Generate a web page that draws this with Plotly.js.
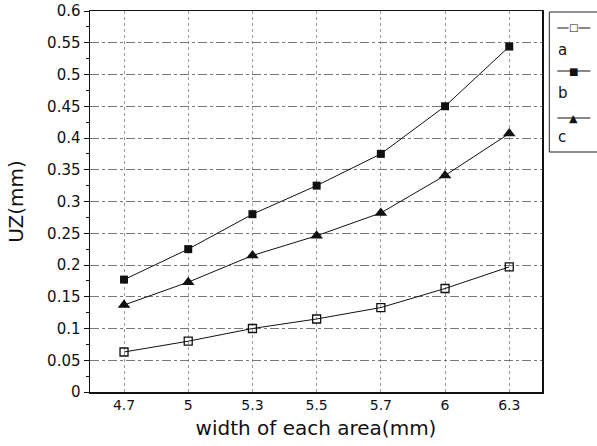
<!DOCTYPE html>
<html>
<head>
<meta charset="utf-8">
<script src="https://cdn.plot.ly/plotly-3.0.1.min.js"></script>
<style>html,body{margin:0;padding:0;background:#fff;}</style>
</head>
<body>
<div id="chart" style="width:597px;height:446px;"></div>
<script>
const categories = ["4.7", "5", "5.3", "5.5", "5.7", "6", "6.3"];
const seriesA = [0.063, 0.080, 0.100, 0.115, 0.133, 0.163, 0.197];
const seriesB = [0.177, 0.225, 0.280, 0.325, 0.375, 0.450, 0.544];
const seriesC = [0.137, 0.173, 0.215, 0.246, 0.282, 0.341, 0.407];
const seriesNames = ["a", "b", "c"];

const L = 90, R = 541.7, T = 11, B = 392;
const px = v => (v - L) / (R - L);
const py = v => (B - v) / (B - T);

const font = "DejaVu Sans, sans-serif";

const traces = [
  {x: categories, y: seriesA, name: seriesNames[0], type: "scatter", mode: "lines+markers",
   line: {color: "#111", width: 1}, marker: {symbol: "square-open", size: 8, color: "#111", line: {width: 1.3}}},
  {x: categories, y: seriesB, name: seriesNames[1], type: "scatter", mode: "lines+markers",
   line: {color: "#111", width: 1}, marker: {symbol: "square", size: 8, color: "#111"}},
  {x: categories, y: seriesC, name: seriesNames[2], type: "scatter", mode: "lines+markers",
   line: {color: "#111", width: 1}, marker: {symbol: "triangle-up", size: 11, color: "#111"}}
];

const legendRows = [28, 71, 118];
const labelRows = [50, 93, 137];
const glyphs = ["□", "■", "▲"];
const shapes = [
  {type: "rect", xref: "paper", yref: "paper", x0: px(549), x1: px(603), y0: py(152), y1: py(12),
   line: {color: "#222", width: 1}, fillcolor: "rgba(0,0,0,0)"}
];
const annotations = [];
legendRows.forEach((r, i) => {
  shapes.push({type: "line", xref: "paper", yref: "paper", x0: px(557), x1: px(590), y0: py(r), y1: py(r),
    line: {color: "#111", width: 1}});
  annotations.push({xref: "paper", yref: "paper", x: px(573.5), y: py(r), text: glyphs[i], showarrow: false,
    xanchor: "center", yanchor: "middle", font: {family: "DejaVu Sans", size: i === 2 ? 11 : 10, color: "#111"},
    bgcolor: i === 0 ? "#fff" : "rgba(0,0,0,0)", borderpad: 0});
  annotations.push({xref: "paper", yref: "paper", x: px(556), y: py(labelRows[i]), text: seriesNames[i], showarrow: false,
    xanchor: "left", yanchor: "middle", font: {family: font, size: 15, color: "#111"}});
});

const layout = {
  width: 597, height: 446,
  margin: {l: L, r: 597 - R, t: T, b: 446 - B},
  paper_bgcolor: "#fff", plot_bgcolor: "#fff",
  showlegend: false,
  font: {family: font, color: "#111"},
  xaxis: {
    type: "category", range: [-0.53, 6.51],
    showline: true, mirror: true, linecolor: "#111", linewidth: 1.5,
    showgrid: true, gridcolor: "#999", griddash: "dot", gridwidth: 1,
    ticks: "", tickfont: {size: 14, family: font, color: "#111"},
    title: {text: "width of each area(mm)", font: {size: 20, family: font, color: "#111"}, standoff: 8},
    zeroline: false
  },
  yaxis: {
    range: [0, 0.6], dtick: 0.05, tick0: 0,
    showline: true, mirror: true, linecolor: "#111", linewidth: 1.5,
    showgrid: true, gridcolor: "#777", griddash: "dashdot", gridwidth: 1,
    ticks: "outside", ticklen: 5, tickcolor: "#111",
    minor: {dtick: 0.025, ticks: "outside", ticklen: 3, tickcolor: "#111", showgrid: false},
    tickfont: {size: 15, family: font, color: "#111"},
    title: {text: "UZ(mm)", font: {size: 20, family: font, color: "#111"}, standoff: 18},
    zeroline: false
  },
  shapes: shapes,
  annotations: annotations
};

Plotly.newPlot("chart", traces, layout, {displayModeBar: false, staticPlot: true});
</script>
</body>
</html>
